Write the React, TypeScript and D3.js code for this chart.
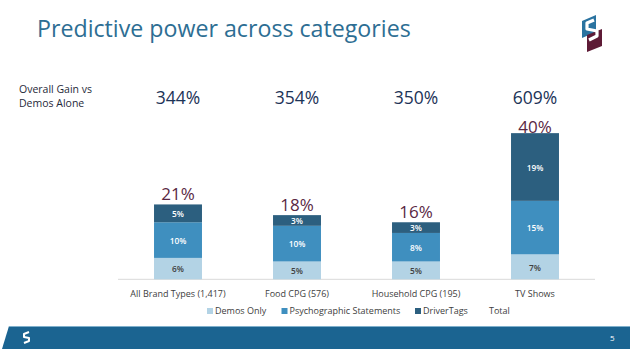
import * as d3 from 'd3';

const categories = ['All Brand Types (1,417)', 'Food CPG (576)', 'Household CPG (195)', 'TV Shows'];
const demosOnly = [6, 5, 5, 7];
const psychographic = [10, 10, 8, 15];
const driverTags = [5, 3, 3, 19];
const totals = [21, 18, 16, 40];
const overallGain = ['344%', '354%', '350%', '609%'];

const seriesKeys = ['Demos Only', 'Psychographic Statements', 'DriverTags'];
const seriesColors = ['#b3d3e5', '#3f8fbf', '#2c5f7f'];
const labelColors = ['#404040', '#fff', '#fff'];

const FONT = '"Open Sans", "DejaVu Sans", sans-serif';

type Row = { cat: string; [k: string]: number | string };

export default function App() {
  const width = 630;
  const height = 363;

  const rows: Row[] = categories.map((c, i) => ({
    cat: c,
    'Demos Only': demosOnly[i],
    'Psychographic Statements': psychographic[i],
    DriverTags: driverTags[i],
  }));

  //scales
  const x = d3
    .scaleBand<string>()
    .domain(categories)
    .range([118.5, 594.5])
    .paddingInner(0.597)
    .paddingOuter(0.2985);
  const y = d3.scaleLinear().domain([0, 40]).range([279.3, 136.7]);

  const stack = d3.stack<Row>().keys(seriesKeys).value((d, k) => d[k] as number);
  const layers = stack(rows);

  const color = d3.scaleOrdinal<string, string>().domain(seriesKeys).range(seriesColors);

  //legend positions
  const legendItems = [
    { label: 'Demos Only', x: 207, color: seriesColors[0] },
    { label: 'Psychographic Statements', x: 281.5, color: seriesColors[1] },
    { label: 'DriverTags', x: 415, color: seriesColors[2] },
    { label: 'Total', x: 482, color: 'none' },
  ];

  return (
    <svg
      width={width}
      height={height}
      style={{ position: 'absolute', left: 0, top: 0, background: '#fff' }}
      fontFamily={FONT}
    >
      <rect width={width} height={height} fill="#fff" />

      {/* title */}
      <text x={37} y={37} fontSize={23.2} fill="#2d6e93">
        Predictive power across categories
      </text>

      {/* logo */}
      <g>
        <polygon points="582,21 596,15 596,32 582,38" fill="#2a73a0" />
        <polygon points="587,35 602,29 602,46 587,52" fill="#5e1b36" />
        <path
          d="M594,20 L587,23 L587,29 L597,31 L597,36 L589,40"
          fill="none"
          stroke="#fff"
          strokeWidth={3.2}
          strokeLinejoin="round"
        />
      </g>

      {/* overall gain */}
      <text x={19} y={92.5} fontSize={10.5} fill="#1f2a3a">
        Overall Gain vs
      </text>
      <text x={19} y={106.5} fontSize={10.5} fill="#1f2a3a">
        Demos Alone
      </text>
      {categories.map((c, i) => (
        <text
          key={'g' + c}
          x={(x(c) ?? 0) + x.bandwidth() / 2}
          y={103.5}
          fontSize={17.5}
          textAnchor="middle"
          fill="#1c3357"
        >
          {overallGain[i]}
        </text>
      ))}

      {/* baseline */}
      <line x1={118} x2={595} y1={y(0)} y2={y(0)} stroke="#d9d9d9" strokeWidth={1} />

      {/* stacked bars */}
      {layers.map((layer) => (
        <g key={layer.key} fill={color(layer.key)}>
          {layer.map((d, i) => (
            <rect
              key={i}
              x={x(d.data.cat as string)}
              y={y(d[1])}
              width={x.bandwidth()}
              height={y(d[0]) - y(d[1])}
            />
          ))}
        </g>
      ))}

      {/* segment labels */}
      {layers.map((layer, li) =>
        layer.map((d, i) => (
          <text
            key={layer.key + 'l' + i}
            x={(x(d.data.cat as string) ?? 0) + x.bandwidth() / 2}
            y={(y(d[0]) + y(d[1])) / 2 + 3.8}
            fontSize={8.3}
            fontWeight={600}
            textAnchor="middle"
            fill={labelColors[li]}
          >
            {`${d[1] - d[0]}%`}
          </text>
        )),
      )}

      {/* totals */}
      {categories.map((c, i) => (
        <text
          key={'t' + c}
          x={(x(c) ?? 0) + x.bandwidth() / 2}
          y={y(totals[i]) - 4}
          fontSize={17}
          textAnchor="middle"
          fill="#5a2843"
        >
          {`${totals[i]}%`}
        </text>
      ))}

      {/* category labels */}
      {categories.map((c) => (
        <text
          key={'c' + c}
          x={(x(c) ?? 0) + x.bandwidth() / 2}
          y={296.5}
          fontSize={9}
          textAnchor="middle"
          fill="#404040"
        >
          {c}
        </text>
      ))}

      {/* legend */}
      {legendItems.map((l) => (
        <g key={l.label} transform={`translate(${l.x},311)`}>
          {l.color !== 'none' && <rect x={0} y={-3} width={6} height={6} fill={l.color} />}
          <text x={l.color !== 'none' ? 8 : 7} y={3.2} fontSize={9} fill="#404040">
            {l.label}
          </text>
        </g>
      ))}

      {/* footer */}
      <polygon points="9,326 630,326 630,349 2,349" fill="#1b6491" />
      <line x1={9} x2={630} y1={326.5} y2={326.5} stroke="#7fb0cc" strokeWidth={1} />
      <path
        d="M29,332 L24,334 L24,337 L29,338 L29,341 L24,343"
        fill="none"
        stroke="#fff"
        strokeWidth={2}
        strokeLinejoin="round"
      />
      <text x={610} y={341} fontSize={8} fill="#fff">
        5
      </text>
    </svg>
  );
}
